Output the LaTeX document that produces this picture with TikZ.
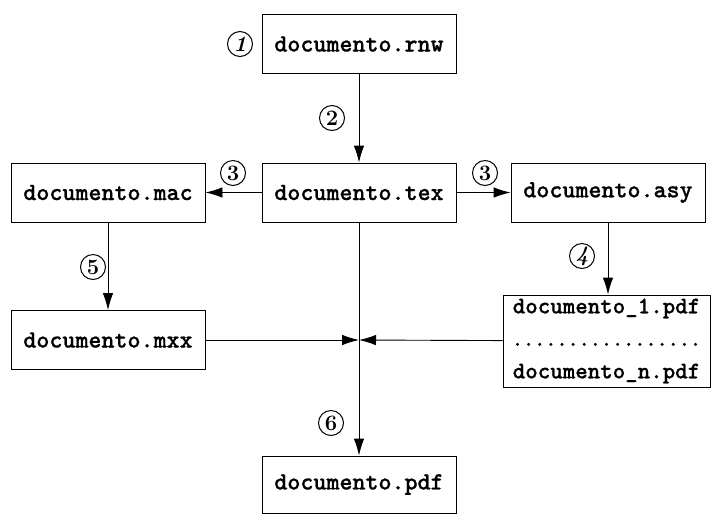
\documentclass[tikz,border=0pt]{standalone}
\usepackage{fontspec}
\newfontfamily\btt{lmmonolt10-bold}[Extension=.otf, FakeBold=0.8]
\usetikzlibrary{arrows.meta}
\tikzset{
  filebox/.style={draw, line width=0.9pt, minimum width=194pt, minimum height=59pt, inner sep=0pt,
    font=\fontsize{24.8}{33}\selectfont\btt},
  flow/.style={line width=0.9pt, -{Latex[length=17pt,width=10.5pt]}},
  stepnum/.style={circle, draw, line width=1pt, minimum size=25pt, inner sep=0pt,
    font=\fontsize{22}{22}\selectfont\bfseries}
}
\begin{document}
\begin{tikzpicture}[x=1pt,y=-1pt]
\useasboundingbox (0,0) rectangle (711,515);
\node[filebox] (rnw) at (359,44) {documento.rnw};
\node[filebox] (tex) at (359,192.5) {documento.tex};
\node[filebox] (mac) at (108,192.5) {documento.mac};
\node[filebox] (asy) at (608,192.5) {documento.asy};
\node[filebox] (mxx) at (108,340) {documento.mxx};
\node[filebox, minimum width=207pt, minimum height=92pt, align=center,
  font=\fontsize{23.8}{32.5}\selectfont\btt] (list) at (606.5,341)
  {documento\_1.pdf\\{\fontsize{21.2}{32.5}\selectfont .................}\\documento\_n.pdf};
\node[filebox, minimum height=57pt] (pdf) at (359,484.5) {documento.pdf};
\coordinate (J) at (359,340);
\draw[flow] (rnw) -- (tex);
\draw[flow] (tex) -- (mac);
\draw[flow] (tex) -- (asy);
\draw[flow] (mac) -- (mxx);
\draw[flow] (asy.south) -- (asy.south |- list.north);
\draw[flow] (tex) -- (pdf);
\draw[flow] (mxx) -- (J);
\draw[flow] (list) -- (J);
\node[stepnum] (n1) at (240,44) {\itshape 1};
\node[stepnum] (n2) at (332,118) {2};
\node[stepnum] (n3a) at (233,173) {3};
\node[stepnum] (n3b) at (485,173) {3};
\node[stepnum] (n4) at (582,256) {\itshape 4};
\node[stepnum] (n5) at (93,267) {5};
\node[stepnum] (n6) at (331,423) {6};
\end{tikzpicture}
\end{document}
